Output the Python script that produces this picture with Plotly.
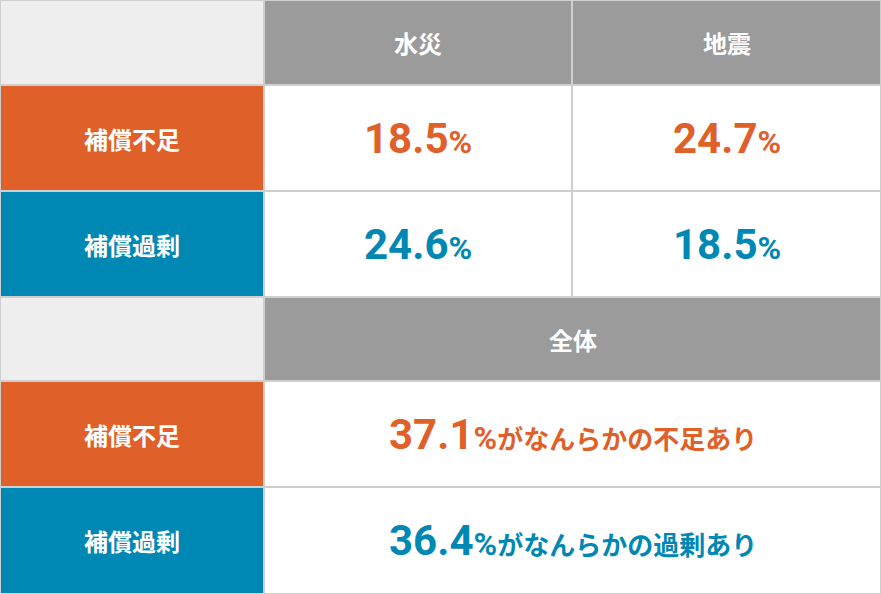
import plotly.graph_objects as go

columns = ["水災", "地震"]
row_labels = ["補償不足", "補償過剰"]
values = [[18.5, 24.7], [24.6, 18.5]]
total_header = "全体"
total_values = [37.1, 36.4]
total_suffix = ["がなんらかの不足あり", "がなんらかの過剰あり"]

ORANGE = "#E0602A"
BLUE = "#0088B5"
row_colors = [ORANGE, BLUE]
HEAD = "#9B9B9B"
EMPTY = "#EEEEEE"
LINE = "#CFCFCF"
FONT = "Noto Sans CJK JP"
NUMFONT = "Roboto, Noto Sans CJK JP"

W, H = 881, 594
xs = [0, 264, 572, 881]
ys = [0, 85, 191, 297, 381, 487, 594]

fig = go.Figure()
shapes, anns = [], []

def rect(x0, x1, y0, y1, fill):
    shapes.append(dict(type="rect", xref="x", yref="y", x0=x0, x1=x1, y0=y0, y1=y1,
                       fillcolor=fill, line=dict(color=LINE, width=2), layer="below"))

def text(x, y, t, color, size, family=FONT):
    anns.append(dict(x=x, y=y, xref="x", yref="y", text=t, showarrow=False,
                     font=dict(family=family, size=size, color=color)))

def pct(v, suffix=""):
    s = f"<b>{v:.1f}<span style='font-size:32px'>%</span></b>"
    if suffix:
        s += f"<b><span style='font-size:26px;font-family:Noto Sans CJK JP'>{suffix}</span></b>"
    return s

rect(xs[0], xs[1], ys[0], ys[1], EMPTY)
for j, c in enumerate(columns):
    rect(xs[j+1], xs[j+2], ys[0], ys[1], HEAD)
    text((xs[j+1]+xs[j+2])/2, (ys[0]+ys[1])/2, f"<b>{c}</b>", "white", 24)
for i, lab in enumerate(row_labels):
    y0, y1 = ys[i+1], ys[i+2]
    rect(xs[0], xs[1], y0, y1, row_colors[i])
    text(xs[1]/2, (y0+y1)/2, f"<b>{lab}</b>", "white", 24)
    for j in range(len(columns)):
        rect(xs[j+1], xs[j+2], y0, y1, "white")
        text((xs[j+1]+xs[j+2])/2, (y0+y1)/2, pct(values[i][j]), row_colors[i], 42, NUMFONT)

rect(xs[0], xs[1], ys[3], ys[4], EMPTY)
rect(xs[1], xs[3], ys[3], ys[4], HEAD)
text((xs[1]+xs[3])/2, (ys[3]+ys[4])/2, f"<b>{total_header}</b>", "white", 24)
for i, lab in enumerate(row_labels):
    y0, y1 = ys[i+4], ys[i+5]
    rect(xs[0], xs[1], y0, y1, row_colors[i])
    text(xs[1]/2, (y0+y1)/2, f"<b>{lab}</b>", "white", 24)
    rect(xs[1], xs[3], y0, y1, "white")
    text((xs[1]+xs[3])/2, (y0+y1)/2, pct(total_values[i], total_suffix[i]), row_colors[i], 42, NUMFONT)

fig.update_layout(width=W, height=H, margin=dict(l=0, r=0, t=0, b=0),
                  plot_bgcolor="white", paper_bgcolor="white",
                  shapes=shapes, annotations=anns, showlegend=False,
                  xaxis=dict(range=[0, W], visible=False, fixedrange=True),
                  yaxis=dict(range=[H, 0], visible=False, fixedrange=True))
fig.write_html("out.html", config={"displayModeBar": False},
               post_script="document.body.style.margin='0';document.body.style.overflow='hidden';")
